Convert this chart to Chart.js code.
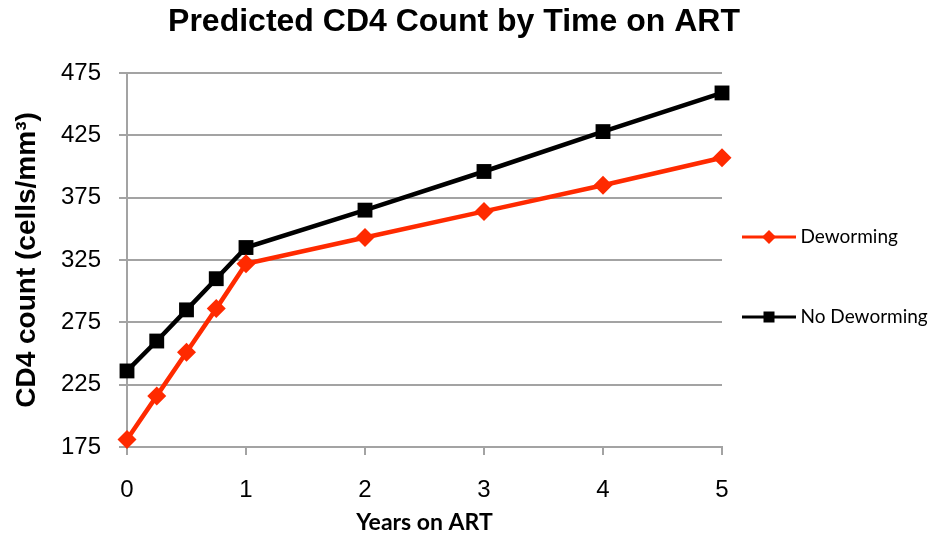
<!DOCTYPE html>
<html>
<head>
<meta charset="utf-8">
<script src="https://cdn.jsdelivr.net/npm/chart.js@4.4.1/dist/chart.umd.min.js"></script>
<style>
    html, body { margin: 0; padding: 0; background: #fff; }
    #wrap { width: 931px; height: 536px; }
</style>
</head>
<body>
<div id="wrap"><canvas id="cd4Chart" width="931" height="536"></canvas></div>
<script>
// Years on ART
const years = [0, 0.25, 0.5, 0.75, 1, 2, 3, 4, 5];
// Predicted CD4 counts (cells/mm3)
const deworming = [181, 216, 251, 286, 322, 343, 364, 385, 407];
const noDeworming = [236, 260, 285, 310, 335, 365, 396, 428, 459];
const yTicks = [175, 225, 275, 325, 375, 425, 475];
const xTicks = [0, 1, 2, 3, 4, 5];

const RED = '#ff2a00';
const BLACK = '#000000';
const GRID = '#a3a3a3';
const ARIAL = '"Liberation Sans", Arial, sans-serif';
const CALIBRI = 'Lato, "Open Sans", sans-serif';

function toPoints(xs, ys) {
    return xs.map((x, i) => ({ x: x, y: ys[i] }));
}

// legend swatch: short line with the marker in the middle.
// the canvas is wider than the swatch so it sits left of the legend text
function legendSwatch(color, style) {
    const c = document.createElement('canvas');
    c.width = 90;
    c.height = 16;
    const g = c.getContext('2d');
    g.strokeStyle = color;
    g.lineWidth = 3;
    g.beginPath();
    g.moveTo(0, 8);
    g.lineTo(54, 8);
    g.stroke();
    g.fillStyle = color;
    if (style === 'diamond') {
        g.beginPath();
        g.moveTo(27, 1);
        g.lineTo(34, 8);
        g.lineTo(27, 15);
        g.lineTo(20, 8);
        g.closePath();
        g.fill();
    } else {
        g.fillRect(21.5, 2.5, 11, 11);
    }
    return c;
}

const swatches = [legendSwatch(RED, 'diamond'), legendSwatch(BLACK, 'square')];

// the original title is centred a bit left of the page centre
const shiftTitle = {
    id: 'shiftTitle',
    afterLayout(chart) {
        if (chart.titleBlock) {
            chart.titleBlock.right -= 23;
        }
    }
};

const ctx = document.getElementById('cd4Chart').getContext('2d');
const chart = new Chart(ctx, {
    type: 'line',
    data: {
        datasets: [{
            label: 'Deworming',
            data: toPoints(years, deworming),
            borderColor: RED,
            backgroundColor: RED,
            borderWidth: 4.5,
            pointStyle: 'rectRot',
            pointRadius: 9.5,
            pointHoverRadius: 9.5,
            pointBorderWidth: 0,
            tension: 0,
            clip: false
        }, {
            label: 'No Deworming',
            data: toPoints(years, noDeworming),
            borderColor: BLACK,
            backgroundColor: BLACK,
            borderWidth: 4.5,
            pointStyle: 'rect',
            pointRadius: 10.5,
            pointHoverRadius: 10.5,
            pointBorderWidth: 0,
            tension: 0,
            clip: false
        }]
    },
    plugins: [shiftTitle],
    options: {
        responsive: false,
        animation: false,
        layout: { padding: 0 },
        plugins: {
            title: {
                display: true,
                text: 'Predicted CD4 Count by Time on ART',
                color: '#000',
                font: { family: ARIAL, size: 32, weight: 'bold', lineHeight: 1 },
                padding: { top: 6, bottom: 35 }
            },
            legend: {
                position: 'right',
                maxWidth: 209,
                // blank title only pushes the items down a little
                title: {
                    display: true,
                    text: ' ',
                    font: { size: 10, lineHeight: 1 },
                    padding: 4
                },
                labels: {
                    usePointStyle: true,
                    pointStyleWidth: 8,
                    color: '#000',
                    padding: 61,
                    font: { family: CALIBRI, size: 19 },
                    generateLabels: (c) => c.data.datasets.map((ds, i) => ({
                        text: ds.label,
                        fontColor: '#000',
                        pointStyle: swatches[i],
                        fillStyle: ds.borderColor,
                        strokeStyle: ds.borderColor,
                        lineWidth: 0,
                        hidden: false,
                        datasetIndex: i
                    }))
                }
            },
            tooltip: { enabled: false }
        },
        scales: {
            x: {
                type: 'linear',
                min: 0,
                max: 5,
                afterBuildTicks: (s) => { s.ticks = xTicks.map(v => ({ value: v })); },
                afterFit: (s) => { s.height = 89; },
                ticks: {
                    color: '#000',
                    font: { family: ARIAL, size: 24, lineHeight: 1 },
                    padding: 23
                },
                grid: {
                    drawOnChartArea: false,
                    drawTicks: true,
                    tickLength: 8,
                    color: GRID,
                    lineWidth: 2
                },
                border: { display: true, color: GRID, width: 2 },
                title: {
                    display: true,
                    text: 'Years on ART',
                    color: '#000',
                    font: { family: CALIBRI, size: 23, weight: 'bold', lineHeight: 1 },
                    padding: { top: 0, bottom: 1.5 }
                }
            },
            y: {
                min: 175,
                max: 475,
                afterBuildTicks: (s) => { s.ticks = yTicks.map(v => ({ value: v })); },
                afterFit: (s) => { s.width = 127; },
                ticks: {
                    color: '#000',
                    font: { family: ARIAL, size: 24, lineHeight: 1 },
                    padding: 18
                },
                grid: {
                    color: GRID,
                    lineWidth: 2,
                    tickLength: 8
                },
                border: { display: true, color: GRID, width: 2 },
                title: {
                    display: true,
                    text: 'CD4 count (cells/mm³)',
                    color: '#000',
                    font: { family: ARIAL, size: 28, weight: 'bold', lineHeight: 1 },
                    padding: { top: 13, bottom: 2 }
                }
            }
        }
    }
});
</script>
</body>
</html>
